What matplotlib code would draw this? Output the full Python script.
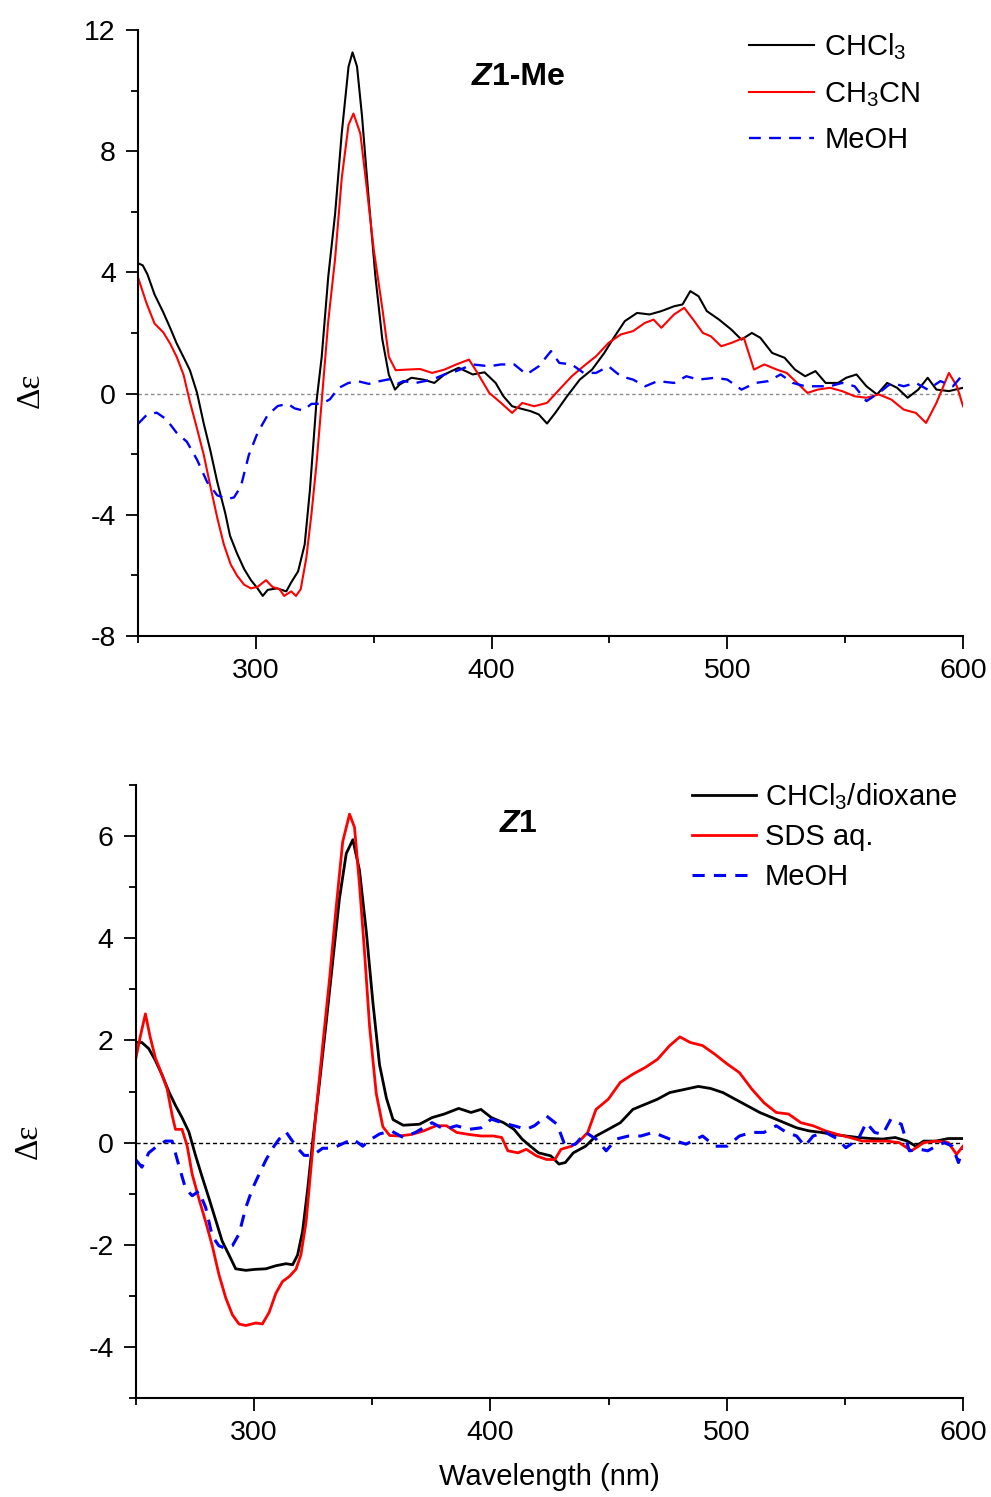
import matplotlib
matplotlib.use('Agg')
import matplotlib.pyplot as plt
from matplotlib.ticker import MultipleLocator

plt.rcParams['font.family'] = ['Liberation Sans', 'DejaVu Sans']
plt.rcParams['mathtext.fontset'] = 'custom'
plt.rcParams['mathtext.rm'] = 'Liberation Sans'
plt.rcParams['mathtext.it'] = 'Liberation Sans:italic'
plt.rcParams['mathtext.bf'] = 'Liberation Sans:bold'
plt.rcParams['axes.unicode_minus'] = False

# ---- Z1-Me (top panel) ----
top_chcl3_wl = [250, 252, 254, 257, 260.7, 263.6, 266.4, 269.3, 272, 275, 277.9, 280.7, 283.6, 287, 289,
                292, 295, 297.9, 300.7, 302.9, 305, 309, 312.9, 315, 317.9, 320.7, 322.9, 325.7, 327.9, 330.7,
                333.6, 336.4, 339.3, 341, 342.9, 345, 347.9, 350.7, 353.6, 356.4, 359, 361, 366, 371, 375.7,
                380, 386, 392, 397, 401.7, 405, 408.7, 413, 416.5, 420, 423.5, 427, 432, 437.4, 442.6,
                447.8, 451.3, 456.5, 461.7, 467, 472, 477.4, 481, 484.3, 487.8, 491.3, 496.5, 501.7, 506, 510.4,
                514, 519, 524.3, 528.7, 533, 537.4, 541.7, 547, 550.4, 554.8, 559, 563.5, 567.8, 572, 576.5,
                581, 585, 588.7, 594, 600]
top_chcl3 = [4.3, 4.23, 3.93, 3.27, 2.68, 2.17, 1.65, 1.2, 0.77, 0.03, -1.0, -1.89, -2.92, -3.95, -4.69,
             -5.28, -5.79, -6.16, -6.43, -6.68, -6.48, -6.43, -6.53, -6.23, -5.87, -4.98, -3.2, -0.27, 1.2, 3.86,
             5.93, 8.58, 10.79, 11.26, 10.79, 9.17, 6.37, 3.86, 1.8, 0.62, 0.13, 0.3, 0.52, 0.46, 0.35,
             0.63, 0.85, 0.63, 0.7, 0.35, -0.09, -0.42, -0.51, -0.58, -0.69, -0.99, -0.64, -0.09, 0.46, 0.79,
             1.34, 1.78, 2.39, 2.66, 2.61, 2.72, 2.88, 2.94, 3.38, 3.21, 2.72, 2.44, 2.11, 1.78, 2.0,
             1.84, 1.34, 1.18, 0.79, 0.57, 0.74, 0.35, 0.35, 0.52, 0.63, 0.24, -0.03, 0.35, 0.19, -0.14,
             0.13, 0.52, 0.13, 0.08, 0.19]

top_ch3cn_wl = [250, 253.6, 257, 260.7, 263.6, 266.4, 269.3, 272, 275, 277.9, 280.7, 283.6, 286.4, 289.3, 292,
                295, 297.9, 300.7, 304.3, 307, 310, 312, 315, 317, 319, 321.4, 323.6, 325.7, 327.9, 330.7,
                333.6, 336.4, 339.3, 341.4, 344.3, 347, 350, 353.6, 356.4, 359.3, 364, 369.6, 374.8, 380, 385,
                390.4, 394, 399, 404, 408.7, 413, 418, 423.5, 428.7, 434, 439, 444.3, 449.6, 454.8, 460,
                465, 468.7, 472, 477.4, 481.7, 486, 489.6, 493, 497.4, 501.7, 507, 511.3, 515.7, 521, 525.2,
                529.6, 534, 538.3, 543.5, 548.7, 554, 559, 564.3, 569.6, 574.8, 580, 584.3, 588.7, 594, 597.4,
                600]
top_ch3cn = [3.83, 2.98, 2.31, 2.02, 1.65, 1.21, 0.62, -0.27, -1.15, -2.03, -3.07, -4.1, -4.98, -5.64, -6.01,
             -6.31, -6.43, -6.38, -6.16, -6.38, -6.46, -6.68, -6.53, -6.68, -6.46, -5.42, -3.95, -2.33, -0.27, 2.39,
             4.45, 7.1, 8.87, 9.24, 8.58, 6.81, 4.75, 2.83, 1.21, 0.77, 0.79, 0.81, 0.68, 0.79, 0.96,
             1.12, 0.68, 0.02, -0.31, -0.64, -0.31, -0.42, -0.31, 0.13, 0.57, 0.9, 1.23, 1.67, 1.95, 2.06,
             2.33, 2.44, 2.17, 2.61, 2.83, 2.39, 2.0, 1.89, 1.56, 1.67, 1.84, 0.79, 0.96, 0.79, 0.68,
             0.35, 0.02, 0.13, 0.19, 0.08, -0.09, -0.14, -0.03, -0.2, -0.53, -0.64, -0.97, -0.31, 0.68, 0.24,
             -0.42]

top_meoh_wl = [250, 253.6, 257.9, 262, 266.4, 270.7, 275, 279.3, 283.6, 287.9, 290.7, 293.6, 297, 300.7, 305,
               309.3, 313.6, 316.4, 320, 323.6, 328, 331.4, 335, 339.3, 343.6, 347.9, 352, 356.4, 360, 362.6,
               367.8, 374.8, 380, 385, 392, 399, 404, 409.6, 414.8, 420, 425.2, 428.7, 434, 439, 444.3,
               449.6, 454.8, 460, 465.2, 470.4, 477.4, 482.6, 487.8, 494.8, 500, 506, 512, 517.4, 522.6, 527.8,
               533, 538.3, 543.5, 548.7, 554, 559, 564.3, 569.6, 574.8, 580, 585, 590.4, 595.7, 600]
top_meoh = [-1.0, -0.71, -0.63, -0.85, -1.3, -1.59, -2.18, -2.92, -3.36, -3.48, -3.43, -3.07, -2.03, -1.3, -0.71,
            -0.41, -0.34, -0.49, -0.56, -0.34, -0.34, -0.19, 0.18, 0.35, 0.4, 0.32, 0.4, 0.47, 0.32, 0.41,
            0.35, 0.46, 0.63, 0.74, 0.96, 0.9, 0.96, 0.96, 0.63, 0.9, 1.4, 1.01, 0.96, 0.68, 0.68,
            0.9, 0.57, 0.46, 0.24, 0.41, 0.35, 0.57, 0.46, 0.52, 0.46, 0.13, 0.35, 0.41, 0.63, 0.35,
            0.24, 0.24, 0.24, 0.35, 0.24, -0.25, 0.02, 0.35, 0.24, 0.35, 0.13, 0.41, 0.24, 0.63]

# ---- Z1 (bottom panel) ----
bot_chcl3_wl = [250, 252.5, 255.4, 258.2, 261, 263.9, 266.7, 269.5, 272.4, 275.2, 278, 280.9, 283.7, 286.5, 289.4,
                292.2, 296.5, 300.7, 305, 309.2, 313.5, 316.3, 318.4, 320.5, 322.7, 324.8, 327.6, 330.5, 333.3, 336.1,
                339, 341.8, 344.6, 347.5, 350.3, 353.1, 356, 358.8, 363.1, 370, 375.3, 380.5, 386.6, 391.8, 396,
                400.4, 405.6, 410, 413.4, 416.9, 420.4, 425.6, 429, 431.7, 435.1, 440.3, 444.7, 449.9, 455, 460.3,
                465.5, 470.7, 475.9, 481, 488, 493.2, 498.4, 503.6, 508.8, 514, 519.2, 524.4, 529.6, 534.8, 540,
                545.2, 550.4, 555.7, 560.9, 566, 571.3, 576.5, 580, 583.4, 588.6, 593.8, 600]
bot_chcl3 = [1.96, 1.96, 1.84, 1.61, 1.33, 1.0, 0.73, 0.49, 0.21, -0.25, -0.67, -1.09, -1.51, -1.93, -2.2,
             -2.47, -2.5, -2.48, -2.47, -2.41, -2.37, -2.39, -2.2, -1.74, -0.9, 0.03, 1.14, 2.35, 3.56, 4.77,
             5.66, 5.93, 5.33, 4.12, 2.73, 1.52, 0.87, 0.45, 0.34, 0.36, 0.49, 0.56, 0.67, 0.59, 0.65,
             0.49, 0.39, 0.26, 0.07, -0.07, -0.2, -0.26, -0.42, -0.39, -0.2, -0.07, 0.13, 0.26, 0.39, 0.65,
             0.75, 0.85, 0.98, 1.03, 1.1, 1.06, 0.98, 0.85, 0.72, 0.59, 0.49, 0.39, 0.29, 0.23, 0.2,
             0.16, 0.13, 0.1, 0.08, 0.07, 0.1, 0.03, -0.07, 0.03, 0.03, 0.08, 0.08]

bot_sds_wl = [250, 251.8, 254, 256, 258.2, 261, 263.2, 265.3, 266.7, 269.5, 271.7, 273.8, 276.6, 279.5, 282.3,
              285.1, 288, 290.8, 293.6, 296.5, 300.7, 303.5, 306.4, 309.2, 312, 314.9, 317.7, 319.8, 322, 324,
              326.2, 329, 331.9, 334.7, 337.5, 340.4, 342.5, 344.6, 346.7, 348.9, 351.7, 354.5, 357.4, 361.4, 366.6,
              371.8, 377, 381.4, 385.7, 390.9, 396.1, 401.3, 404.8, 407.4, 411.7, 415.2, 419.5, 423.8, 427.3, 429.9,
              434.3, 437.7, 441.2, 444.7, 449.9, 455, 460.3, 465.5, 470.7, 475.9, 480.2, 484.6, 489.8, 495, 500.2,
              505.4, 510.6, 515.8, 521, 526.2, 531.4, 536.6, 541.8, 547, 552.2, 557.4, 562.6, 567.8, 573, 578.2,
              583.4, 588.6, 593.8, 597.3, 600]
bot_sds = [1.66, 2.07, 2.52, 2.07, 1.66, 1.33, 1.05, 0.54, 0.26, 0.26, -0.07, -0.62, -1.09, -1.55, -2.02,
           -2.58, -3.04, -3.37, -3.55, -3.58, -3.53, -3.55, -3.32, -2.95, -2.72, -2.62, -2.48, -2.2, -1.55, -0.53,
           0.59, 1.89, 3.19, 4.59, 5.89, 6.43, 6.17, 5.05, 3.75, 2.26, 0.96, 0.31, 0.14, 0.13, 0.16,
           0.23, 0.33, 0.33, 0.2, 0.16, 0.13, 0.13, 0.1, -0.16, -0.2, -0.13, -0.26, -0.33, -0.33, -0.13,
           -0.07, 0.03, 0.2, 0.65, 0.85, 1.18, 1.34, 1.47, 1.63, 1.9, 2.07, 1.96, 1.9, 1.73, 1.54,
           1.37, 1.05, 0.78, 0.59, 0.56, 0.39, 0.33, 0.23, 0.16, 0.1, 0.03, 0.03, 0.03, 0.0, -0.16,
           0.0, 0.03, 0.0, -0.23, -0.07]

bot_meoh_wl = [250, 252.5, 255.4, 258.9, 262.5, 265.3, 268.1, 271, 273.8, 276.6, 279.5, 282.3, 285.1, 288, 290.8,
               293.6, 296.5, 299.3, 302.1, 305, 307.8, 310.6, 313.5, 315.6, 318.4, 321.2, 324.8, 329, 333.3, 337.5,
               341.8, 346, 348.9, 353.1, 358, 363.1, 368.3, 375.3, 380.5, 385.7, 390.9, 396.1, 400.4, 404.8, 410,
               415.2, 418.6, 423.8, 428.2, 431.7, 436, 440.3, 444.7, 449, 453.3, 458.5, 463.7, 468.9, 475.9, 482.8,
               489.8, 495, 500.2, 505.4, 510.6, 515.8, 521, 525.3, 529.6, 533.1, 536.6, 541.8, 547, 550.4, 555.7,
               559.1, 562.6, 566, 569.5, 573.9, 577.3, 581.7, 585.1, 588.6, 592.1, 595.5, 598.1, 600]
bot_meoh = [-0.34, -0.48, -0.2, -0.07, 0.03, 0.03, -0.44, -0.9, -1.04, -0.95, -1.27, -1.83, -2.02, -2.07, -2.02,
            -1.79, -1.27, -0.9, -0.62, -0.34, -0.11, 0.07, 0.21, 0.07, -0.11, -0.25, -0.25, -0.11, -0.11, -0.02,
            0.07, -0.07, 0.05, 0.17, 0.23, 0.1, 0.2, 0.39, 0.26, 0.33, 0.26, 0.29, 0.46, 0.39, 0.33,
            0.26, 0.33, 0.52, 0.36, -0.07, -0.03, 0.2, 0.07, -0.16, 0.07, 0.13, 0.13, 0.2, 0.07, -0.03,
            0.13, -0.07, -0.07, 0.13, 0.2, 0.2, 0.33, 0.2, 0.13, -0.07, 0.13, 0.2, 0.07, -0.1, 0.07,
            0.39, 0.2, 0.16, 0.46, 0.36, -0.16, -0.13, -0.16, -0.07, 0.0, -0.07, -0.39, -0.13]

TICK_FS = 20.5
LEG_FS = 21


def style_axes(ax, ymin, ymax, ymajor, yminor, label_x, label_y):
    ax.set_xlim(250, 600)
    ax.set_ylim(ymin, ymax)
    for side in ('top', 'right'):
        ax.spines[side].set_visible(False)
    for side in ('left', 'bottom'):
        ax.spines[side].set_linewidth(1.5)
    ax.xaxis.set_major_locator(MultipleLocator(100))
    ax.xaxis.set_minor_locator(MultipleLocator(50))
    ax.yaxis.set_major_locator(MultipleLocator(ymajor))
    ax.yaxis.set_minor_locator(MultipleLocator(yminor))
    ax.tick_params(which='major', direction='out', length=9, width=1.3, labelsize=TICK_FS, pad=7)
    ax.tick_params(which='minor', direction='out', length=5, width=1.3)
    ax.set_ylabel('Δε', fontsize=24, family='Liberation Serif')
    ax.yaxis.set_label_coords(label_x, label_y)


def add_title(ax, x, y, rest):
    t = ax.text(x, y, 'Z', transform=ax.transAxes, fontsize=23, fontweight='bold',
                style='italic', ha='left', va='baseline')
    ax.annotate(rest, xycoords=t, xy=(1, 0), va='bottom', fontsize=23, fontweight='bold')


fig = plt.figure(figsize=(9.91, 14.97), dpi=100)
ax1 = fig.add_axes([0.1393, 0.5752, 0.8325, 0.4048])
ax2 = fig.add_axes([0.1372, 0.0661, 0.8345, 0.4095])

# top panel
ax1.axhline(0, color='#8c8c8c', lw=1.0, dashes=(2.5, 2))
ax1.plot(top_chcl3_wl, top_chcl3, color='black', lw=1.5, label=r'CHCl$_3$')
ax1.plot(top_ch3cn_wl, top_ch3cn, color='#ff0000', lw=1.5, label=r'CH$_3$CN')
ax1.plot(top_meoh_wl, top_meoh, color='#0000ff', lw=1.7, dashes=(5, 3.5), label='MeOH')
style_axes(ax1, -8, 12, 4, 2, -0.112, 0.406)
add_title(ax1, 0.405, 0.909, '1-Me')
ax1.legend(loc='upper left', bbox_to_anchor=(0.727, 1.0165), frameon=False, fontsize=LEG_FS,
           handlelength=2.2, handletextpad=0.37, labelspacing=0.6, borderaxespad=0)

# bottom panel
ax2.axhline(0, color='black', lw=1.0, dashes=(3, 2))
ax2.plot(bot_chcl3_wl, bot_chcl3, color='black', lw=2.0, label=r'CHCl$_3$/dioxane')
ax2.plot(bot_sds_wl, bot_sds, color='#ff0000', lw=2.0, label='SDS aq.')
ax2.plot(bot_meoh_wl, bot_meoh, color='#0000ff', lw=2.2, dashes=(4, 3), label='MeOH')
style_axes(ax2, -5, 7, 2, 1, -0.111, 0.418)
add_title(ax2, 0.44, 0.923, '1')
ax2.set_xlabel('Wavelength (nm)', fontsize=21, labelpad=12)
ax2.legend(loc='upper left', bbox_to_anchor=(0.658, 1.026), frameon=False, fontsize=LEG_FS,
           handlelength=2.2, handletextpad=0.3, labelspacing=0.4, borderaxespad=0)

fig.savefig('out.png', dpi=100)
